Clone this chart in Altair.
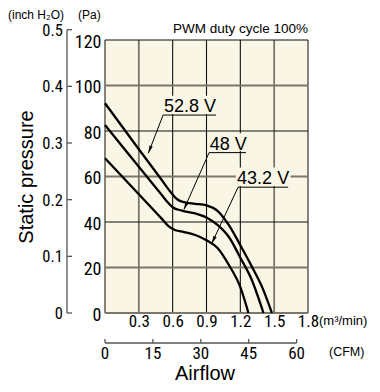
import math
import altair as alt
import pandas as pd

W, H = 203, 273
NARROW = "Liberation Sans Narrow, Roboto Condensed, DejaVu Sans Condensed, Roboto, sans-serif"
SANS = "Liberation Sans, Arial, Helvetica, sans-serif"
CREAM = "#f9f6e6"

# ---- data ----
flow_ticks = [0, 0.3, 0.6, 0.9, 1.2, 1.5, 1.8]          # m3/min
pa_ticks = [0, 20, 40, 60, 80, 100, 120]                 # Pa
inch_ticks = [0, 0.1, 0.2, 0.3, 0.4, 0.5]                # inch H2O
cfm_ticks = [0, 15, 30, 45, 60]                          # CFM

flow_528 = [0, 0.3, 0.5, 0.58, 0.64, 0.7, 0.8, 0.9, 1.0, 1.1, 1.2, 1.3, 1.4, 1.48]
pa_528 = [92.2, 72.0, 58.7, 53.3, 50.0, 48.7, 48.0, 47.3, 44.8, 38.5, 29.8, 20.6, 10.6, 0]
flow_48 = [0, 0.3, 0.5, 0.55, 0.6, 0.68, 0.8, 0.9, 1.0, 1.1, 1.2, 1.3, 1.405]
pa_48 = [82.6, 64.3, 52.1, 49.0, 46.5, 45.0, 43.8, 42.0, 38.6, 33.3, 24.3, 14.7, 0]
flow_432 = [0, 0.3, 0.5, 0.56, 0.62, 0.7, 0.8, 0.9, 1.0, 1.1, 1.2, 1.272]
pa_432 = [68.0, 52.2, 41.6, 38.3, 36.5, 35.6, 34.3, 32.0, 28.5, 21.0, 11.4, 0]

labels = ["52.8 V", "48 V", "43.2 V"]
label_x = [0.754, 1.092, 1.402]
label_y = [88.4, 71.6, 56.7]
mask_x1 = [0.52, 0.92, 1.16]
mask_x2 = [0.995, 1.26, 1.645]
mask_y1 = [87.5, 71.2, 55.8]
mask_y2 = [95.5, 79.0, 64.0]
line_x1 = [0.515, 0.923, 1.18]
line_x2 = [0.985, 1.25, 1.624]
line_y = [87.0, 70.5, 55.3]
tip_x = [0.384, 0.70, 0.947]
tip_y = [70.2, 45.5, 30.6]

INCH_TO_PA = 249.09
CFM_TO_M3MIN = 0.0283168

# ---- tables ----
curves = pd.concat([
    pd.DataFrame({"flow": flow_528, "pa": pa_528, "s": "52.8 V"}),
    pd.DataFrame({"flow": flow_48, "pa": pa_48, "s": "48 V"}),
    pd.DataFrame({"flow": flow_432, "pa": pa_432, "s": "43.2 V"}),
])
ann = pd.DataFrame({
    "t": labels, "lx": label_x, "ly": label_y,
    "mx1": mask_x1, "mx2": mask_x2, "my1": mask_y1, "my2": mask_y2,
    "ux1": line_x1, "ux2": line_x2, "uy": line_y, "tx": tip_x, "ty": tip_y,
})
# arrowhead direction (clockwise degrees from "up") along each leader line
ann["ang"] = [
    math.degrees(math.atan2((tx - sx) * W / 1.8, (ty - sy) * H / 120)) % 360
    for sx, sy, tx, ty in zip(line_x1, line_y, tip_x, tip_y)
]

xs = alt.Scale(domain=[0, 1.8], nice=False, zero=False)
ys = alt.Scale(domain=[0, 120], nice=False)
xaxis = alt.Axis(values=flow_ticks[1:], format=".1f", tickSize=0, domain=False, grid=False,
                 labelPadding=0, labelFont=NARROW, labelFontSize=17, labelColor="black",
                 labelFlush=False, title=None)
yaxis = alt.Axis(values=pa_ticks, tickSize=0, domain=False, grid=False, labelPadding=4,
                 labelFont=NARROW, labelFontSize=18, labelOffset=2, labelColor="black",
                 labelFlush=False, title=None)


def X(f):
    return alt.X(f, type="quantitative", scale=xs, axis=xaxis)


def Y(f):
    return alt.Y(f, type="quantitative", scale=ys, axis=yaxis)


vgrid = alt.Chart(pd.DataFrame({"v": flow_ticks})).mark_rule().encode(
    x=X("v"), y=alt.value(0), y2=alt.value(H),
    color=alt.condition("datum.v > 0.45 && datum.v < 1.35", alt.value("#111111"), alt.value("#7a766b")),
    strokeWidth=alt.condition("datum.v > 0.45 && datum.v < 1.35", alt.value(1.1), alt.value(1.8)),
)
hgrid = alt.Chart(pd.DataFrame({"v": pa_ticks})).mark_rule().encode(
    y=Y("v"), x=alt.value(0), x2=alt.value(W),
    color=alt.condition("datum.v > 0 && datum.v % 40 == 0", alt.value("#111111"), alt.value("#7a766b")),
    strokeWidth=alt.condition("datum.v > 0 && datum.v % 40 == 0", alt.value(1.1), alt.value(1.8)),
)

base = alt.Chart(ann)
masks = base.mark_rect(color=CREAM).encode(x=X("mx1"), x2="mx2", y=Y("my1"), y2="my2")
under = base.mark_rule(color="black", strokeWidth=1).encode(x=X("ux1"), x2="ux2", y=Y("uy"))
leader = base.mark_rule(color="black", strokeWidth=1).encode(x=X("ux1"), x2="tx", y=Y("uy"), y2="ty")
heads = base.mark_point(shape="M0,0L0.5,2.2L-0.5,2.2Z", filled=True, color="black", opacity=1,
                        size=49, strokeWidth=0).encode(x=X("tx"), y=Y("ty"), angle=alt.Angle("ang:Q", scale=None))
ltext = base.mark_text(font=SANS, fontSize=18, color="black", baseline="alphabetic", align="center").encode(
    x=X("lx"), y=Y("ly"), text="t:N")

lines = alt.Chart(curves).mark_line(color="black", strokeWidth=2.3, interpolate="monotone").encode(
    x=X("flow"), y=Y("pa"), detail="s:N")

# inch H2O axis (left)
inch_df = pd.DataFrame({"inch": inch_ticks})
inch_line = alt.Chart(pd.DataFrame({"a": [0], "b": [max(inch_ticks)]})).transform_calculate(
    pa0="datum.a*%f" % INCH_TO_PA, pa1="datum.b*%f" % INCH_TO_PA
).mark_rule(color="#555555", strokeWidth=1.3).encode(x=alt.value(-38), y=Y("pa0:Q"), y2="pa1:Q")
inch_tk = alt.Chart(inch_df).transform_calculate(pa="datum.inch*%f" % INCH_TO_PA).mark_rule(
    color="#555555", strokeWidth=1.3).encode(x=alt.value(-38), x2=alt.value(-33), y=Y("pa:Q"))
inch_lb = alt.Chart(inch_df).transform_calculate(
    pa="datum.inch*%f" % INCH_TO_PA, lab="datum.inch == 0 ? '0' : format(datum.inch, '.1f')"
).mark_text(font=NARROW, fontSize=16.5, align="right", baseline="middle", color="black", dy=1).encode(
    x=alt.value(-42), y=Y("pa:Q"), text="lab:N")

# CFM axis (bottom)
cfm_df = pd.DataFrame({"cfm": cfm_ticks})
cfm_line = alt.Chart(pd.DataFrame({"a": [0], "b": [max(cfm_ticks)]})).transform_calculate(
    f0="datum.a*%f" % CFM_TO_M3MIN, f1="datum.b*%f" % CFM_TO_M3MIN
).mark_rule(color="#555555", strokeWidth=1.3).encode(y=alt.value(303), x=X("f0:Q"), x2="f1:Q")
cfm_tk = alt.Chart(cfm_df).transform_calculate(f="datum.cfm*%f" % CFM_TO_M3MIN).mark_rule(
    color="#555555", strokeWidth=1.3).encode(y=alt.value(299), y2=alt.value(303), x=X("f:Q"))
cfm_lb = alt.Chart(cfm_df).transform_calculate(f="datum.cfm*%f" % CFM_TO_M3MIN).mark_text(
    font=NARROW, fontSize=17, align="center", baseline="alphabetic", color="black").encode(
    x=X("f:Q"), y=alt.value(319), text="cfm:Q")


def txt(s, x, y, size, align="left", angle=0, font=SANS):
    return alt.Chart(pd.DataFrame({"t": [s]})).mark_text(
        font=font, fontSize=size, align=align, baseline="alphabetic", angle=angle, color="black"
    ).encode(x=alt.value(x), y=alt.value(y), text="t:N")


texts = [
    txt("(inch H₂O)", -97, -21, 12),
    txt("(Pa)", -27, -21, 12),
    txt("PWM duty cycle 100%", 203, -7, 13.5, align="right"),
    txt("(m³/min)", 214, 285, 13),
    txt("(CFM)", 224, 316, 12.5),
    txt("Airflow", 100, 340, 20, align="center"),
    txt("Static pressure", -72, 137, 20, align="center", angle=270),
]

chart = alt.layer(
    vgrid, hgrid, masks, lines, under, leader, heads, ltext,
    inch_line, inch_tk, inch_lb, cfm_line, cfm_tk, cfm_lb, *texts
).properties(
    width=W, height=H,
    autosize=alt.AutoSizeParams(type="none"),
    padding={"left": 97, "top": 32, "right": 64, "bottom": 71},
).configure_view(fill=CREAM, stroke=None)

chart.save("out.html", embed_options={"renderer": "svg", "actions": False})
